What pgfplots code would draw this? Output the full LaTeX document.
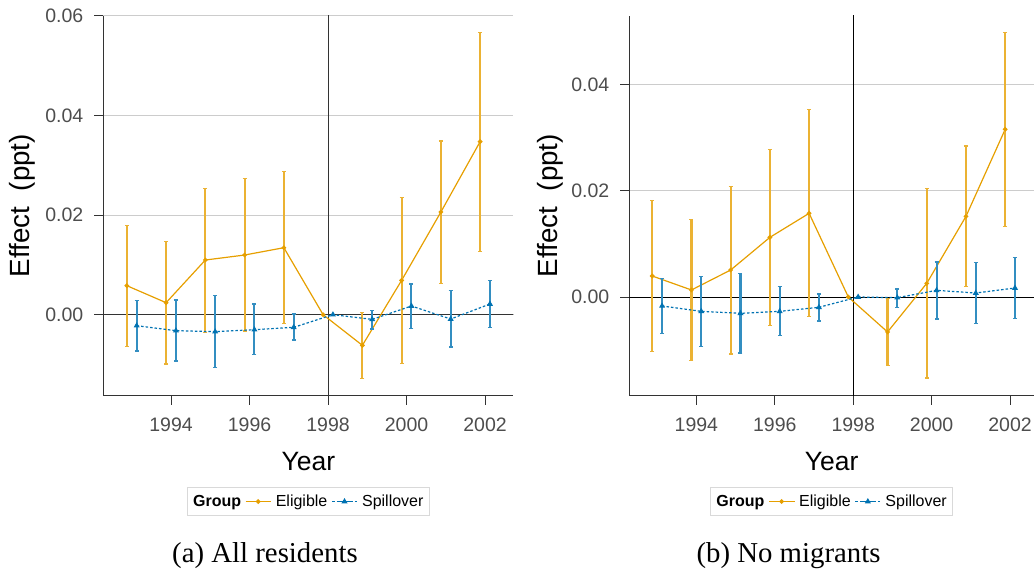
\documentclass[border=0pt]{standalone}
\usepackage{fontspec}
\setmainfont{Liberation Sans}
\newfontfamily\capfont{Liberation Serif}
\usepackage{pgfplots}
\usepackage{pgfplotstable}
\pgfplotsset{compat=1.18}
\definecolor{elig}{HTML}{E69F00}
\definecolor{spill}{HTML}{0072B2}
\definecolor{tickgray}{HTML}{4D4D4D}
\definecolor{gridgray}{HTML}{CCCCCC}
\definecolor{spine}{HTML}{333333}
\definecolor{legframe}{HTML}{D9D9D9}
\colorlet{eligbar}{elig!80!white}
\colorlet{spillbar}{spill!80!white}

\pgfplotstableread{
year y lo hi
1993 0.00582 -0.00635 0.01786
1994 0.00241 -0.00990 0.01465
1995 0.01097 -0.00355 0.02535
1996 0.01197 -0.00328 0.02736
1997 0.01344 -0.00180 0.02876
1998 0 0 0
1999 -0.00615 -0.01278 0.00047
2000 0.00689 -0.00977 0.02355
2001 0.02060 0.00629 0.03485
2002 0.03472 0.01271 0.05666
}\eligA
\pgfplotstableread{
year y lo hi
1993 -0.00221 -0.00729 0.00281
1994 -0.00321 -0.00930 0.00294
1995 -0.00341 -0.01064 0.00381
1996 -0.00301 -0.00796 0.00214
1997 -0.00254 -0.00508 0.00013
1998 0 0 0
1999 -0.00094 -0.00288 0.00087
2000 0.00174 -0.00274 0.00615
2001 -0.00087 -0.00649 0.00482
2002 0.00214 -0.00261 0.00682
}\spillA
\pgfplotstableread{
year y lo hi
1993 0.00395 -0.01022 0.01818
1994 0.00132 -0.01197 0.01461
1995 0.00508 -0.01072 0.02075
1996 0.01122 -0.00533 0.02777
1997 0.01574 -0.00370 0.03530
1998 0 0 0
1999 -0.00658 -0.01292 -0.00025
2000 0.00257 -0.01524 0.02044
2001 0.01517 0.00194 0.02840
2002 0.03154 0.01329 0.04978
}\eligB
\pgfplotstableread{
year y lo hi
1993 -0.00169 -0.00683 0.00345
1994 -0.00270 -0.00928 0.00389
1995 -0.00307 -0.01053 0.00445
1996 -0.00270 -0.00727 0.00194
1997 -0.00194 -0.00451 0.00056
1998 0 0 0
1999 -0.00013 -0.00200 0.00150
2000 0.00125 -0.00414 0.00658
2001 0.00075 -0.00502 0.00646
2002 0.00169 -0.00401 0.00740
}\spillB

\pgfplotsset{
  panel/.style={
    scale only axis,
    anchor=south west,
    height=380pt,
    axis x line=bottom, axis y line=left,
    axis line style={spine, line width=1.1pt, -},
    tick align=outside,
    major tick length=9pt,
    every tick/.style={spine, line width=1pt},
    xtick={1994,1996,1998,2000,2002},
    scaled y ticks=false,
    ymajorgrids,
    major grid style={gridgray, line width=1pt},
    /pgf/number format/assume math mode=true,
    x tick label style={/pgf/number format/1000 sep={}, anchor=center, yshift=-20.3pt, inner sep=0pt,
      font=\fontsize{19.5}{22}\selectfont, text=tickgray},
    y tick label style={/pgf/number format/.cd, fixed, fixed zerofill, precision=2, /tikz/.cd,
      anchor=east, inner sep=0pt, xshift=-10.8pt, font=\fontsize{19.5}{22}\selectfont, text=tickgray},
    xlabel={Year},
    ylabel={Effect\ \ (ppt)},
    every axis x label/.style={at={(axis description cs:0.5,0)}, anchor=center, yshift=-66.3pt,
      font=\fontsize{26.5}{30}\selectfont},
    legend image code/.code={\path (-5.5pt,0pt) -- (20pt,0pt);
      \draw[mark repeat=2,mark phase=2,#1,solid] plot coordinates {(0pt,0pt) (7pt,0pt) (14pt,0pt)};},
    legend style={at={(0.5,-0.2403)}, anchor=north, legend columns=-1, draw=legframe, line width=1pt,
      font=\fontsize{16}{19}\selectfont, inner xsep=2pt, inner ysep=3pt,
      nodes={inner xsep=4pt, inner ysep=4.5pt}},
  },
  eligstyle/.style={elig, line width=1.2pt, mark=*, mark size=1.7pt, mark options={solid, fill=elig},
    error bars/.cd, y dir=both, y explicit,
    error bar style={line width=2.1pt, eligbar, solid},
    error mark options={rotate=90, mark size=2pt, line width=1.3pt, eligbar}},
  spillstyle/.style={spill, line width=1.2pt, dash pattern=on 2.5pt off 2pt, mark=triangle*, mark size=2.3pt,
    mark options={solid, fill=spill},
    error bars/.cd, y dir=both, y explicit,
    error bar style={line width=2.1pt, spillbar, solid},
    error mark options={rotate=90, mark size=2pt, line width=1.3pt, spillbar}},
}

\begin{document}
\begin{tikzpicture}
\useasboundingbox (0,0) rectangle (1034pt,571pt);
% Panel (a)
\begin{axis}[panel, at={(103.3pt,175.33pt)}, width=410pt,
  xmin=1992.275, xmax=2002.72, ymin=-0.01625, ymax=0.06,
  ytick={0,0.02,0.04,0.06},
  every axis y label/.style={at={(axis description cs:0,0.5)}, rotate=90, anchor=center, yshift=81pt,
      font=\fontsize{27.8}{31}\selectfont}]
\addlegendimage{empty legend}
\addlegendentry{\textbf{Group}}
\addplot[spine, line width=1pt, forget plot] coordinates {(1990,0) (2004,0)};
\addplot[spine, line width=1pt, forget plot] coordinates {(1998,-0.03) (1998,0.08)};
\addplot[eligstyle] table[x expr=\thisrow{year}-0.125, y=y,
  y error plus expr=\thisrow{hi}-\thisrow{y}, y error minus expr=\thisrow{y}-\thisrow{lo}] {\eligA};
\addlegendentry{Eligible}
\addplot[spillstyle] table[x expr=\thisrow{year}+0.125, y=y,
  y error plus expr=\thisrow{hi}-\thisrow{y}, y error minus expr=\thisrow{y}-\thisrow{lo}] {\spillA};
\addlegendentry{Spillover}
\end{axis}
% Panel (b)
\begin{axis}[panel, at={(629.3pt,175.33pt)}, width=404.7pt,
  xmin=1992.29, xmax=2002.61, ymin=-0.01856, ymax=0.05292,
  ytick={0,0.02,0.04},
  every axis y label/.style={at={(axis description cs:0,0.5)}, rotate=90, anchor=center, yshift=79.3pt,
      font=\fontsize{27.8}{31}\selectfont}]
\addlegendimage{empty legend}
\addlegendentry{\textbf{Group}}
\addplot[black, line width=1pt, forget plot] coordinates {(1990,0) (2004,0)};
\addplot[black, line width=1pt, forget plot] coordinates {(1998,-0.03) (1998,0.08)};
\addplot[eligstyle] table[x expr=\thisrow{year}-0.125, y=y,
  y error plus expr=\thisrow{hi}-\thisrow{y}, y error minus expr=\thisrow{y}-\thisrow{lo}] {\eligB};
\addlegendentry{Eligible}
\addplot[spillstyle] table[x expr=\thisrow{year}+0.125, y=y,
  y error plus expr=\thisrow{hi}-\thisrow{y}, y error minus expr=\thisrow{y}-\thisrow{lo}] {\spillB};
\addlegendentry{Spillover}
\end{axis}
\node[anchor=base, font=\capfont\fontsize{28.8}{34}\selectfont] at (265pt,8.7pt) {(a) All residents};
\node[anchor=base, font=\capfont\fontsize{28.8}{34}\selectfont] at (788.5pt,8.7pt) {(b) No migrants};
\end{tikzpicture}
\end{document}
